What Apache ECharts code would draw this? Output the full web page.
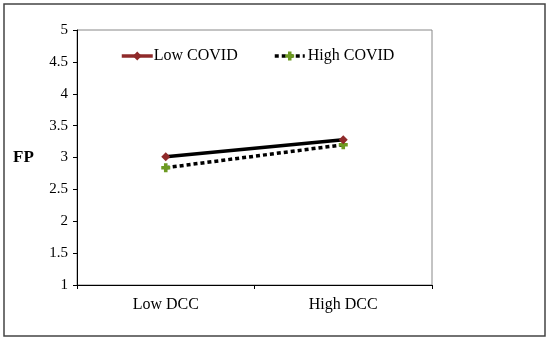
<!DOCTYPE html>
<html>
<head>
<meta charset="utf-8">
<script src="https://cdn.jsdelivr.net/npm/echarts@6/dist/echarts.min.js"></script>
<style>html,body{margin:0;padding:0;background:#fff}#c{width:550px;height:339px}</style>
</head>
<body>
<div id="c"></div>
<script>
var categories = ['Low DCC', 'High DCC'];
var lowCovid = [3.01, 3.28];
var highCovid = [2.84, 3.2];
var yTicks = [1, 1.5, 2, 2.5, 3, 3.5, 4, 4.5, 5];
var seriesNames = ['Low COVID', 'High COVID'];

var font = '"Liberation Serif", "Times New Roman", serif';
var crossPath = 'path://M3,0 H7 V3 H10 V7 H7 V10 H3 V7 H0 V3 H3 Z';
var chart = echarts.init(document.getElementById('c'), null, {renderer: 'canvas'});
chart.setOption({
  backgroundColor: '#fff',
  animation: false,
  graphic: [
    {type: 'rect', shape: {x: 4, y: 4, width: 541, height: 332}, style: {fill: 'none', stroke: '#444', lineWidth: 1.5}, z: -1},
    {type: 'text', left: 13, top: 149, style: {text: 'FP', font: 'bold 17px ' + font, fill: '#000'}}
  ],
  grid: {left: 77, right: 118, top: 30, bottom: 54, show: true, borderColor: '#888', borderWidth: 1, backgroundColor: '#fff'},
  legend: [
    {data: [{name: seriesNames[0], itemStyle: {color: '#8f2a2a'}, lineStyle: {color: '#8f2a2a', width: 3.5, type: 'solid'}}],
     left: 115, top: 43, itemWidth: 31, itemHeight: 11, itemGap: 4,
     textStyle: {fontFamily: font, fontSize: 16, color: '#000', padding: [0, 0, 0, -4]}},
    {data: [{name: seriesNames[1], itemStyle: {color: '#6d9a22'}, lineStyle: {color: '#000', width: 3.5, type: [4, 3]}}],
     left: 268, top: 43, itemWidth: 30, itemHeight: 11, itemGap: 4,
     textStyle: {fontFamily: font, fontSize: 16, color: '#000', padding: [0, 0, 0, -2]}}
  ],
  xAxis: {
    type: 'category', data: categories, boundaryGap: true,
    axisLine: {lineStyle: {color: '#000', width: 1}},
    axisTick: {show: true, length: 4, inside: false, lineStyle: {color: '#000'}},
    axisLabel: {fontFamily: font, fontSize: 16, color: '#000', margin: 12},
    splitLine: {show: false}
  },
  yAxis: {
    type: 'value', min: 1, max: 5, interval: 0.5,
    axisLine: {show: true, lineStyle: {color: '#000', width: 1}},
    axisTick: {show: true, length: 4, lineStyle: {color: '#000'}},
    axisLabel: {fontFamily: font, fontSize: 15, color: '#000', margin: 9,
      formatter: function (v) { return String(v); }},
    splitLine: {show: false}
  },
  series: [
    {name: seriesNames[0], type: 'line', data: lowCovid, symbol: 'diamond', symbolSize: 9,
     itemStyle: {color: '#8f2a2a'}, lineStyle: {color: '#000', width: 3.5}, z: 3},
    {name: seriesNames[1], type: 'line', data: highCovid, symbol: crossPath, symbolSize: 9,
     itemStyle: {color: '#6d9a22'}, lineStyle: {color: '#000', width: 3.5, type: [4, 3]}, z: 2}
  ]
});
</script>
</body>
</html>
